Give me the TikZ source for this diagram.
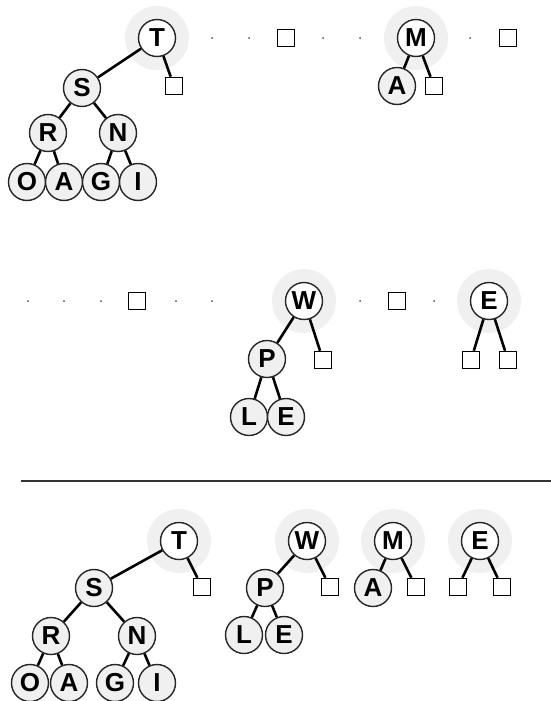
\documentclass[tikz,border=0pt]{standalone}
\usepackage{fontspec}
\setmainfont{Liberation Sans}
\begin{document}
\begin{tikzpicture}[x=1pt,y=-1pt,
  key/.style={circle,draw=black!85,line width=1.4pt,fill=gray!12,minimum size=37pt,inner sep=0pt,font=\fontsize{26}{26}\selectfont\bfseries},
  root/.style={key,fill=white,preaction={draw=gray!12,line width=27pt}},
  leaf/.style={rectangle,draw,line width=1.5pt,fill=white,minimum size=17pt,inner sep=0pt},
  gap/.style={circle,fill=black!70,inner sep=0pt,minimum size=2pt},
  link/.style={line width=2.6pt}
]
  \useasboundingbox (0,0) rectangle (551,701);
  % forest before the insertion
  \node[root] (t1) at (157,38) {T};
  \node[key] (s1) at (82,88) {S};
  \node[leaf] (q1) at (174,86) {};
  \node[key] (r1) at (48,133) {R};
  \node[key] (n1) at (118,133) {N};
  \node[key] (o1) at (27,182) {O};
  \node[key] (a1) at (64,182) {A};
  \node[key] (g1) at (101,182) {G};
  \node[key] (i1) at (138,182) {I};
  \node[leaf] (q2) at (286,38) {};
  \node[root] (m1) at (416,38) {M};
  \node[key] (a2) at (397,86) {A};
  \node[leaf] (q3) at (434,86) {};
  \node[leaf] (q4) at (508,38) {};
  % second queue
  \node[leaf] (q5) at (137,301) {};
  \node[root] (w1) at (304,301) {W};
  \node[key] (p1) at (267,359) {P};
  \node[leaf] (q6) at (323,360) {};
  \node[key] (l1) at (249,417) {L};
  \node[key] (e1) at (286,417) {E};
  \node[leaf] (q7) at (397,301) {};
  \node[root] (e2) at (489,301) {E};
  \node[leaf] (q8) at (471,360) {};
  \node[leaf] (q9) at (508,360) {};
  % empty slots
  \foreach \x/\y [count=\k] in {212/38,249/38,323/38,360/38,470/38,
      28/301,64/301,101/301,176/301,212/301,360/301,434/301}
    \node[gap] (d\k) at (\x,\y) {};
  % result
  \coordinate (rulea) at (21,481);
  \coordinate (ruleb) at (551,481);
  \draw[line width=1.8pt,black!80] (rulea) -- (ruleb);
  \node[root] (t2) at (179,541) {T};
  \node[key] (s2) at (94,588) {S};
  \node[leaf] (q10) at (202,587) {};
  \node[key] (r2) at (51,636) {R};
  \node[key] (n2) at (137,636) {N};
  \node[key] (o2) at (30,683) {O};
  \node[key] (a3) at (69,683) {A};
  \node[key] (g2) at (115,683) {G};
  \node[key] (i2) at (157,683) {I};
  \node[root] (w2) at (307,541) {W};
  \node[key] (p2) at (265,588) {P};
  \node[leaf] (q11) at (330,587) {};
  \node[key] (l2) at (244,635) {L};
  \node[key] (e3) at (284,635) {E};
  \node[root] (m2) at (393,541) {M};
  \node[key] (a4) at (373,588) {A};
  \node[leaf] (q12) at (416,587) {};
  \node[root] (e4) at (480,541) {E};
  \node[leaf] (q13) at (458,587) {};
  \node[leaf] (q14) at (502,587) {};
  \foreach \a/\b in {t1/s1,t1/q1,s1/r1,s1/n1,r1/o1,r1/a1,n1/g1,n1/i1,m1/a2,m1/q3,
      w1/p1,w1/q6,p1/l1,p1/e1,e2/q8,e2/q9,
      t2/s2,t2/q10,s2/r2,s2/n2,r2/o2,r2/a3,n2/g2,n2/i2,w2/p2,w2/q11,p2/l2,p2/e3,
      m2/a4,m2/q12,e4/q13,e4/q14}
    \draw[link] (\a) -- (\b);
\end{tikzpicture}
\end{document}
